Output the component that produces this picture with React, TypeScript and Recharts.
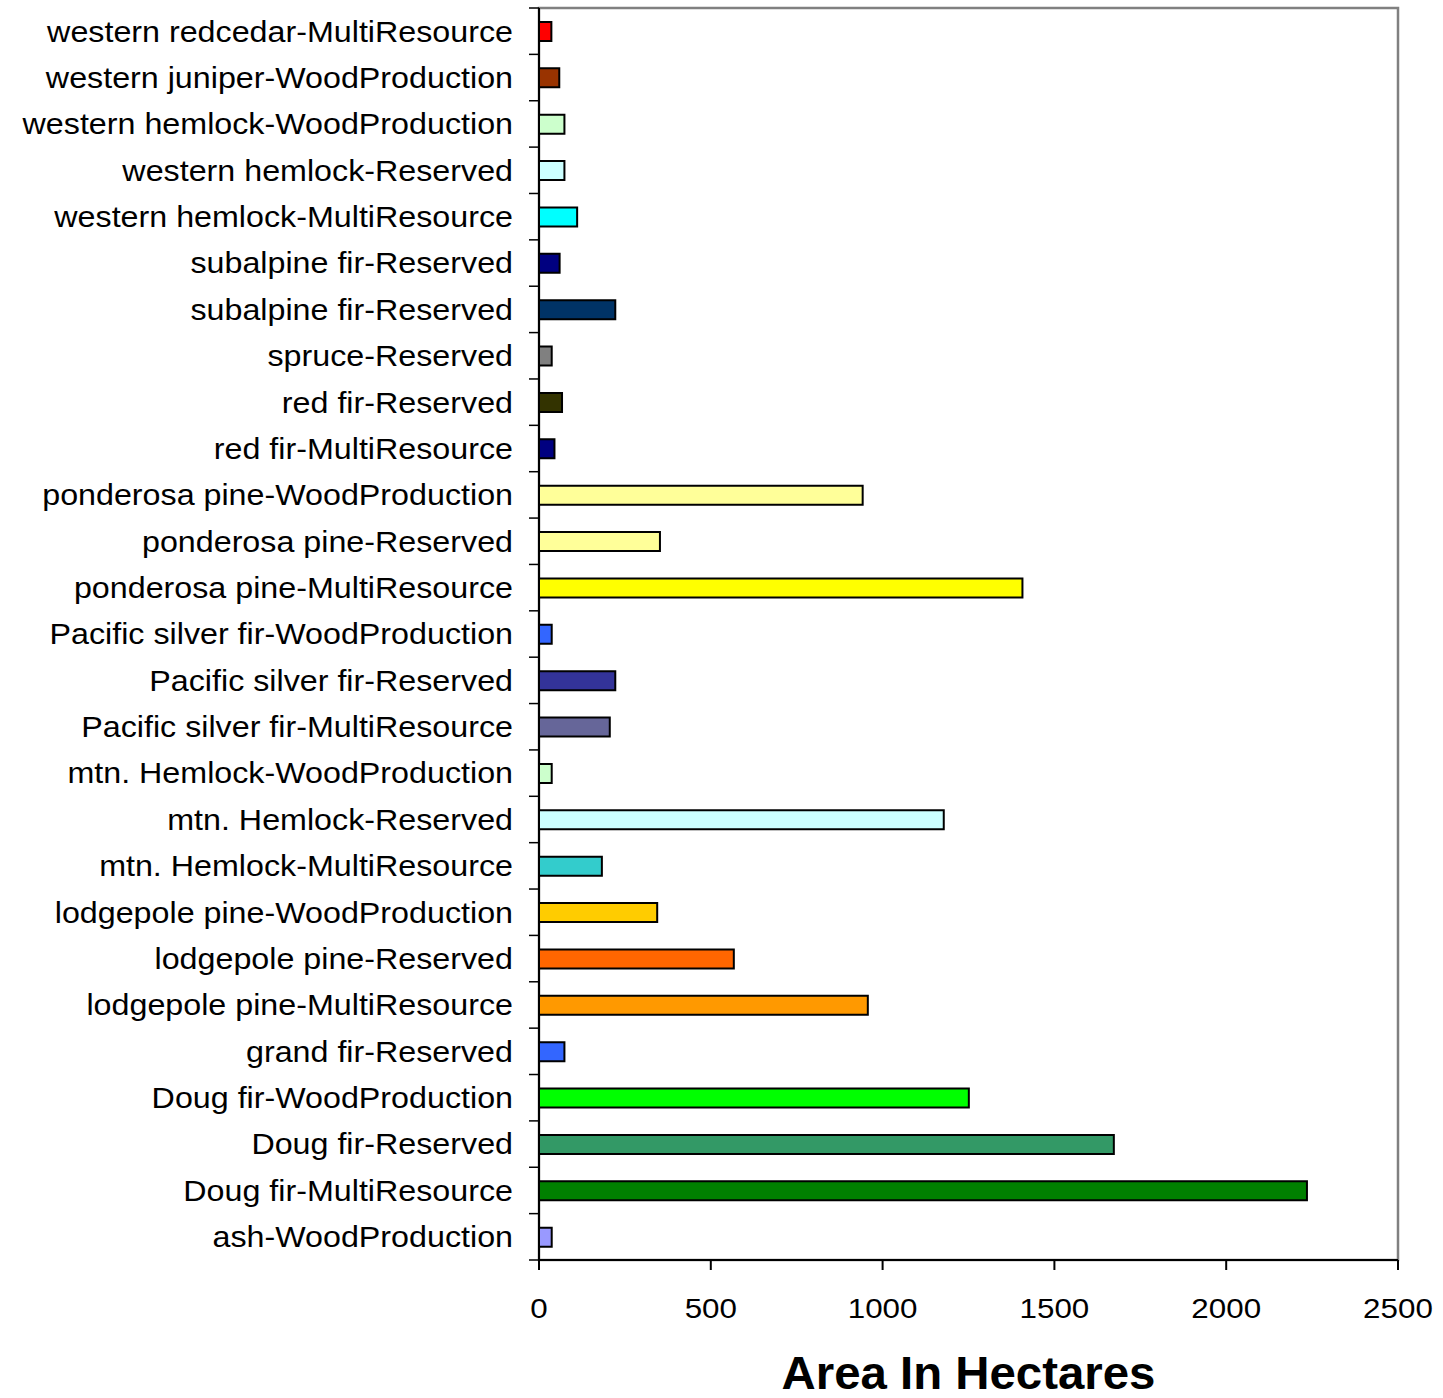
import { BarChart, Bar, XAxis, YAxis, Cell, ReferenceArea } from 'recharts';

// top-to-bottom order, as it appears in the chart
const categories = [
  'western redcedar-MultiResource',
  'western juniper-WoodProduction',
  'western hemlock-WoodProduction',
  'western hemlock-Reserved',
  'western hemlock-MultiResource',
  'subalpine fir-Reserved',
  'subalpine fir-Reserved',
  'spruce-Reserved',
  'red fir-Reserved',
  'red fir-MultiResource',
  'ponderosa pine-WoodProduction',
  'ponderosa pine-Reserved',
  'ponderosa pine-MultiResource',
  'Pacific silver fir-WoodProduction',
  'Pacific silver fir-Reserved',
  'Pacific silver fir-MultiResource',
  'mtn. Hemlock-WoodProduction',
  'mtn. Hemlock-Reserved',
  'mtn. Hemlock-MultiResource',
  'lodgepole pine-WoodProduction',
  'lodgepole pine-Reserved',
  'lodgepole pine-MultiResource',
  'grand fir-Reserved',
  'Doug fir-WoodProduction',
  'Doug fir-Reserved',
  'Doug fir-MultiResource',
  'ash-WoodProduction',
];

const hectares = [
  36, 59, 74, 74, 111, 60, 222, 37, 67, 45,
  942, 352, 1407, 37, 222, 206, 37, 1178, 183,
  344, 567, 957, 74, 1251, 1673, 2235, 37,
];

const barColors = [
  '#FF0000', '#993300', '#CCFFCC', '#CCFFFF', '#00FFFF', '#000080', '#003366', '#808080', '#333300', '#000080',
  '#FFFF99', '#FFFF99', '#FFFF00', '#3366FF', '#333399', '#666699', '#CCFFCC', '#CCFFFF', '#33CCCC',
  '#FFCC00', '#FF6600', '#FF9900', '#3366FF', '#00FF00', '#339966', '#008000', '#9999FF',
];

const xTicks = [0, 500, 1000, 1500, 2000, 2500];

const data = categories.map((name, i) => ({ id: i, name, value: hectares[i] }));

const W = 1443;
const H = 1398;
const MARGIN = { top: 8, right: 45, left: 0, bottom: 0 };
const Y_AXIS_W = 539;
const X_AXIS_H = 138;
const BAND = (H - MARGIN.top - MARGIN.bottom - X_AXIS_H) / categories.length;
const STRETCH = 1.12;
const FONT = '"Liberation Sans", Arial, sans-serif';

const CategoryTick = (props: any) => {
  const { x, y, payload, index } = props;
  const label = categories[payload.value] ?? '';
  const top = y - BAND / 2;
  const bottom = y + BAND / 2;
  return (
    <g>
      <line x1={x - 10} x2={x} y1={top} y2={top} stroke="#000" strokeWidth={1.5} />
      {index === categories.length - 1 && (
        <line x1={x - 10} x2={x} y1={bottom} y2={bottom} stroke="#000" strokeWidth={1.5} />
      )}
      <g transform={`translate(${x - 26},${y}) scale(${STRETCH},1)`}>
        <text x={0} y={0} dy="0.36em" textAnchor="end" fontSize={28.8} fontFamily={FONT} fill="#000">
          {label}
        </text>
      </g>
    </g>
  );
};

const ValueTick = (props: any) => {
  const { x, y, payload } = props;
  return (
    <g transform={`translate(${x},${y}) scale(${STRETCH},1)`}>
      <text x={0} y={0} dy="0.71em" textAnchor="middle" fontSize={28} fontFamily={FONT} fill="#000">
        {payload.value}
      </text>
    </g>
  );
};

const AxisTitle = (props: any) => {
  const vb = props.viewBox || {};
  const cx = vb.x + vb.width / 2;
  const by = vb.y + vb.height - 9;
  return (
    <g transform={`translate(${cx},${by}) scale(1.03,1)`}>
      <text x={0} y={0} textAnchor="middle" fontSize={46} fontWeight="bold" fontFamily={FONT} fill="#000">
        Area In Hectares
      </text>
    </g>
  );
};

export default function App() {
  return (
    <div style={{ position: 'absolute', left: 0, top: 0, background: '#fff' }}>
      <BarChart width={W} height={H} data={data} layout="vertical" margin={MARGIN}>
        {/* gray plot-area frame (top and right edges show) */}
        <ReferenceArea x1={0} x2={2500} fill="none" stroke="#808080" strokeWidth={2.5} ifOverflow="extendDomain" />
        <XAxis
          type="number"
          domain={[0, 2500]}
          ticks={xTicks}
          interval={0}
          height={X_AXIS_H}
          stroke="#000"
          strokeWidth={2}
          tickSize={10}
          tickMargin={28}
          tick={<ValueTick />}
          label={<AxisTitle />}
        />
        <YAxis
          type="category"
          dataKey="id"
          width={Y_AXIS_W}
          interval={0}
          tickSize={0}
          tickMargin={0}
          tickLine={false}
          stroke="#000"
          strokeWidth={2}
          tick={<CategoryTick />}
        />
        <Bar dataKey="value" barSize={19} stroke="#000" strokeWidth={2} isAnimationActive={false}>
          {data.map((d, i) => (
            <Cell key={d.id} fill={barColors[i]} />
          ))}
        </Bar>
      </BarChart>
    </div>
  );
}
